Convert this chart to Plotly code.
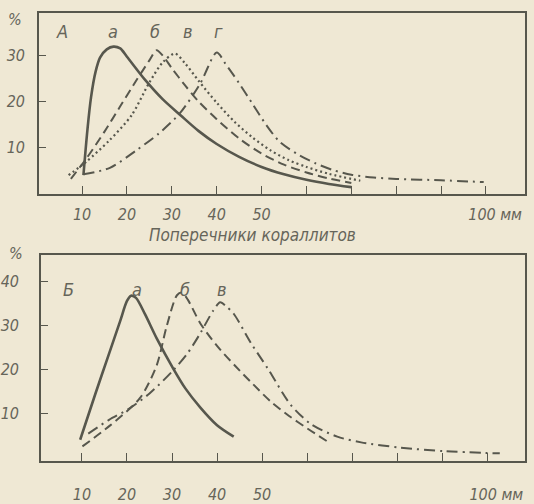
import plotly.graph_objects as go

# ---------------- data ----------------
# Panel A
A_a_x = [10.3, 11.2, 12, 13, 14, 15.5, 17, 18.5, 20, 24, 28, 32, 36, 40, 45, 50, 55, 60, 65, 70]
A_a_y = [4, 14, 21, 26.5, 29.6, 31.4, 32, 31.6, 29.8, 24.8, 20.5, 17, 13.6, 10.8, 8, 5.8, 4.2, 3, 2.1, 1.4]

A_b_x = [7.5, 11, 15, 18.5, 22, 25, 26.6, 28, 30, 33, 36, 40, 45, 50, 55, 60, 65, 70]
A_b_y = [3.2, 7.7, 13.5, 19, 24.5, 29, 31.2, 30, 27.3, 23.5, 20, 16.2, 12, 8.7, 6.3, 4.6, 3.3, 2.3]

A_v_x = [7, 11, 16, 21, 25, 28, 30.7, 33, 36, 40, 44, 48, 52, 56, 60, 65, 72]
A_v_y = [4, 7, 11.5, 17, 24.2, 28.6, 30.5, 28.3, 24.5, 19.8, 15.6, 12.2, 9.4, 7.3, 5.8, 4.3, 2.8]

A_g_x = [10.3, 16.2, 22.2, 27, 31.8, 36.3, 40, 42, 45, 48, 51, 54, 58, 62, 66, 70, 75, 80, 90, 99.5]
A_g_y = [4.2, 5.6, 9.5, 13, 17.5, 23.9, 30.7, 28.2, 24, 19.5, 15, 11.3, 8.6, 6.6, 5.1, 4.1, 3.5, 3.2, 2.9, 2.5]

# Panel Б
B_a_x = [9.6, 13, 16, 18.5, 20, 20.9, 22, 24, 26.6, 30.3, 33, 36.3, 40, 43.7]
B_a_y = [4.0, 14.5, 23.5, 31, 35.5, 36.7, 36.2, 32.5, 27, 20.1, 15.6, 11.3, 7.3, 4.7]

B_b_x = [10.1, 16.2, 22.9, 26.6, 28.8, 31.1, 32.2, 33.5, 36.3, 40, 44, 48, 52, 56, 60, 64.5]
B_b_y = [2.5, 7.2, 13.5, 20.9, 29.7, 36.8, 37.4, 35.8, 30.4, 25.3, 20.8, 16.6, 12.6, 9.4, 6.6, 3.6]

B_v_x = [11.4, 16, 20.4, 25, 30.3, 33.5, 36.3, 39.2, 40.7, 42, 43.7, 47.5, 51.5, 56.3, 60.8, 66.7, 72, 80.8, 90.5, 102.8]
B_v_y = [5.4, 8.5, 11.0, 14.5, 19.8, 23.7, 28.2, 33.4, 35.2, 34.3, 32.6, 26, 19.8, 12, 7.6, 4.7, 3.4, 2.2, 1.4, 0.9]

x_tick_vals = [10, 20, 30, 40, 50, 60, 70, 80, 90, 100]
x_tick_text = ["10", "20", "30", "40", "50", "", "", "", "", "\u00a0\u00a0\u00a0\u00a0100 мм"]
A_y_tick_vals = [10, 20, 30]
B_y_tick_vals = [10, 20, 30, 40]
x_title = "Поперечники кораллитов"

A_labels = ["а", "б", "в", "г"]
A_label_x = [16.9, 26.2, 33.6, 40.3]
B_labels = ["а", "б", "в"]
B_label_x = [22.2, 32.9, 41.1]

# ---------------- style ----------------
W, H = 534, 504
BG = "#efe8d4"
INK = "#57574d"
TXT = "#66655a"
FONT = "Liberation Sans Narrow, DejaVu Sans Condensed, Liberation Sans, sans-serif"

def px_x(p):
    return p / W

def px_y(p):
    return 1 - p / H

fig = go.Figure()

styles = {
    "solid": dict(color=INK, width=2.6, dash="solid"),
    "dash": dict(color=INK, width=2.0, dash="9px,5px"),
    "dot": dict(color=INK, width=2.2, dash="2px,3px"),
    "dashdot": dict(color=INK, width=2.0, dash="11px,5px,2px,5px"),
}

def add(x, y, st, ax):
    fig.add_trace(go.Scatter(
        x=x, y=y, mode="lines", line=dict(shape="spline", smoothing=0.8, **styles[st]),
        xaxis="x" if ax == 1 else "x2", yaxis="y" if ax == 1 else "y2",
        hoverinfo="skip", showlegend=False))

add(A_a_x, A_a_y, "solid", 1)
add(A_b_x, A_b_y, "dash", 1)
add(A_v_x, A_v_y, "dot", 1)
add(A_g_x, A_g_y, "dashdot", 1)

add(B_a_x, B_a_y, "solid", 2)
add(B_b_x, B_b_y, "dash", 2)
add(B_v_x, B_v_y, "dashdot", 2)

tickfont = dict(family=FONT, size=16, color=TXT, style="italic")

common_x = dict(
    showgrid=False, zeroline=False, showline=True, linecolor=INK, linewidth=1.6, mirror=True,
    ticks="inside", ticklen=8, tickwidth=1.3, tickcolor=INK,
    tickvals=x_tick_vals, ticktext=x_tick_text, tickfont=tickfont,
)
common_y = dict(
    showgrid=False, zeroline=False, showline=True, linecolor=INK, linewidth=1.6, mirror=True,
    ticks="inside", ticklen=7, tickwidth=1.3, tickcolor=INK, tickfont=tickfont,
)

fig.update_layout(
    width=W, height=H,
    margin=dict(l=0, r=0, t=0, b=0),
    paper_bgcolor=BG, plot_bgcolor=BG,
    xaxis=dict(domain=[px_x(39), px_x(525)], range=[0.4, 108.7], anchor="y",
               ticklabelstandoff=5, **common_x),
    yaxis=dict(domain=[px_y(200), px_y(13)], range=[-0.1, 39.4], anchor="x",
               tickvals=A_y_tick_vals, ticklabelstandoff=9, **common_y),
    xaxis2=dict(domain=[px_x(41), px_x(525)], range=[0.9, 108.4], anchor="y2",
                ticklabelstandoff=18, **common_x),
    yaxis2=dict(domain=[px_y(475), px_y(263)], range=[-0.8, 45.9], anchor="x2",
                tickvals=B_y_tick_vals, ticklabelstandoff=17, **common_y),
)

lab_font = dict(family=FONT, size=18, color=TXT, style="italic")
ann = []
ann.append(dict(x=5.5, y=35.2, xref="x", yref="y", text="A", showarrow=False, font=lab_font))
for t, xv in zip(A_labels, A_label_x):
    ann.append(dict(x=xv, y=35.2, xref="x", yref="y", text=t, showarrow=False, font=lab_font))
ann.append(dict(x=6.9, y=38.2, xref="x2", yref="y2", text="Б", showarrow=False, font=lab_font))
for t, xv in zip(B_labels, B_label_x):
    ann.append(dict(x=xv, y=38.2, xref="x2", yref="y2", text=t, showarrow=False, font=lab_font))
# percent signs
pfont = dict(family=FONT, size=16, color=TXT, style="italic")
ann.append(dict(x=px_x(15), y=px_y(20), xref="paper", yref="paper", text="%", showarrow=False,
                xanchor="center", yanchor="middle", font=pfont))
ann.append(dict(x=px_x(16), y=px_y(261), xref="paper", yref="paper", text="%", showarrow=False,
                xanchor="center", yanchor="middle", font=pfont))
# axis title of panel A
ann.append(dict(x=px_x(252), y=px_y(242), xref="paper", yref="paper", text=x_title, showarrow=False,
                xanchor="center", yanchor="middle",
                font=dict(family=FONT, size=17, color=TXT, style="italic")))
fig.update_layout(annotations=ann)

fig.write_html("out.html", config={"displayModeBar": False},
               post_script="document.body.style.margin='0';document.body.style.overflow='hidden';")
